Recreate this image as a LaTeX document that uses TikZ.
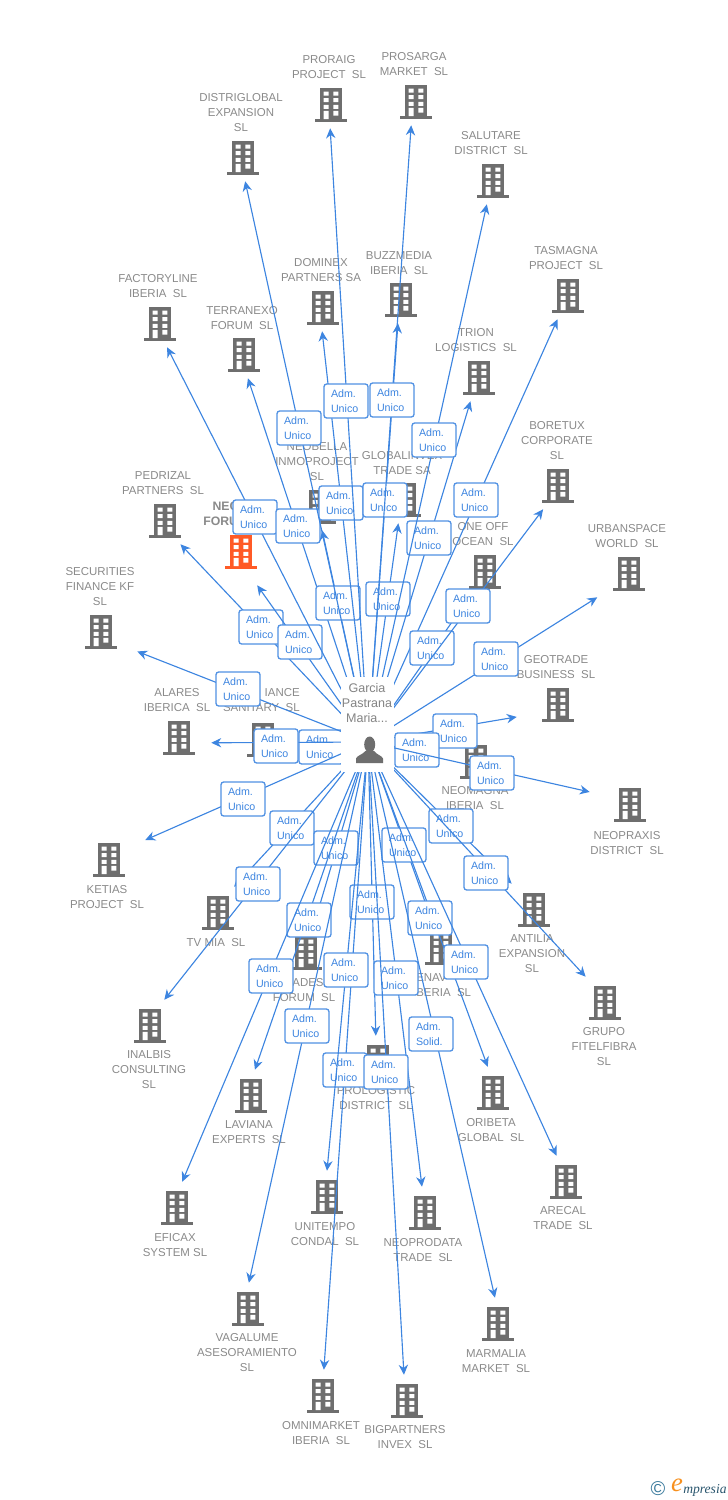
\documentclass[tikz,border=0pt]{standalone}
\usepackage{fontspec}
\usepackage{xcolor}
\usepackage{tikz}
\usetikzlibrary{arrows.meta}
\setmainfont{Liberation Sans}
\newfontfamily\logofont{Liberation Serif}
\definecolor{bldggrey}{HTML}{6E6E6E}
\definecolor{firmgrey}{HTML}{8A8A8A}
\definecolor{linkblue}{HTML}{3D85E0}
\definecolor{headorange}{HTML}{FF5A26}
\definecolor{logoteal}{HTML}{3A7A9C}
\definecolor{logoorange}{HTML}{F7901E}
\tikzset{
  bldg/.style={rectangle,minimum width=54pt,minimum height=36.75pt,inner sep=0pt,yshift=1.125pt,
    path picture={
      \begin{scope}[shift={(path picture bounding box.center)}]
      \fill[#1] (-11,-15.3) rectangle (11,15.7);
      \fill[#1] (-15.7,15.7) rectangle (15.7,18.2);
      \fill[white] (-7.3,-12) rectangle (-2.3,-8) (2.3,-12) rectangle (7.3,-8);
      \fill[white] (-7.3,-5.3) rectangle (-2.3,-1.3) (2.3,-5.3) rectangle (7.3,-1.3);
      \fill[white] (-7.3,1.4) rectangle (-2.3,5.4) (2.3,1.4) rectangle (7.3,5.4);
      \fill[white] (-7.3,7.4) rectangle (-2.3,15.7) (2.3,7.4) rectangle (7.3,12);
      \end{scope}}},
  bldg/.default=bldggrey,
  firm/.style={font=\fontsize{8.6}{11.25}\selectfont,text=firmgrey,align=center,inner sep=0pt},
  link/.style={draw=linkblue,line width=0.85pt,-{Stealth[length=7.5pt,width=7pt]}},
  adm/.style={draw=linkblue!90!white,fill=white,line width=1pt,rounded corners=2pt,
    text width=22.5pt,inner xsep=5.25pt,inner ysep=0pt,minimum height=25.5pt,text=linkblue,
    font=\fontsize{8}{11.25}\selectfont,align=left},
  personbox/.style={fill=white,minimum width=39.5pt,minimum height=71.2pt,inner sep=0pt}
}
\begin{document}
\begin{tikzpicture}[x=0.75pt,y=-0.75pt]
\useasboundingbox (0,0) rectangle (728,1500);
\coordinate (hub) at (368,742);

% buildings and their names
\node [bldg] (prosarga) at (416,102) {};
\node [firm] (prosarganame) at (414,64) {PROSARGA\\MARKET~~SL};
\node [bldg] (proraig) at (331,105) {};
\node [firm] (proraigname) at (329,67) {PRORAIG\\PROJECT~~SL};
\node [bldg] (distriglobal) at (243,158) {};
\node [firm] (distriglobalname) at (241,113) {DISTRIGLOBAL\\EXPANSION\\SL};
\node [bldg] (salutare) at (493,181) {};
\node [firm] (salutarename) at (491,143) {SALUTARE\\DISTRICT~~SL};
\node [bldg] (tasmagna) at (568,296) {};
\node [firm] (tasmagnaname) at (566,258) {TASMAGNA\\PROJECT~~SL};
\node [bldg] (dominex) at (323,308) {};
\node [firm] (dominexname) at (321,270) {DOMINEX\\PARTNERS SA};
\node [bldg] (buzzmedia) at (401,300) {};
\node [firm] (buzzmedianame) at (399,263) {BUZZMEDIA\\IBERIA~~SL};
\node [bldg] (factoryline) at (160,324) {};
\node [firm] (factorylinename) at (158,286) {FACTORYLINE\\IBERIA~~SL};
\node [bldg] (terranexo) at (244,355) {};
\node [firm] (terranexoname) at (242,318) {TERRANEXO\\FORUM~~SL};
\node [bldg] (trion) at (479,378) {};
\node [firm] (trionname) at (476,340) {TRION\\LOGISTICS~~SL};
\node [bldg] (neobella) at (320,507) {};
\node [firm] (neobellaname) at (317,462) {NEOBELLA\\INMOPROJECT\\SL};
\node [bldg] (globalinvex) at (405,500) {};
\node [firm] (globalinvexname) at (402,463) {GLOBALINVEX\\TRADE SA};
\node [bldg] (boretux) at (558,486) {};
\node [firm] (boretuxname) at (557,441) {BORETUX\\CORPORATE\\SL};
\node [bldg] (pedrizal) at (165,521) {};
\node [firm] (pedrizalname) at (163,483) {PEDRIZAL\\PARTNERS~~SL};
\node [bldg=headorange,minimum height=51.75pt] (nec) at (241,552) {};
\node [firm,font=\fontsize{9.2}{11.25}\selectfont\bfseries,align=left,anchor=west] (necname) at (203,514) {\hspace*{7pt}NEC\\FORU};
\node [bldg] (oneoff) at (485,572) {};
\node [firm] (oneoffname) at (483,534) {ONE OFF\\OCEAN~~SL};
\node [bldg] (urbanspace) at (629,574) {};
\node [firm] (urbanspacename) at (627,536) {URBANSPACE\\WORLD~~SL};
\node [bldg] (securities) at (101,632) {};
\node [firm] (securitiesname) at (100,587) {SECURITIES\\FINANCE KF\\SL};
\node [bldg,minimum width=61.5pt] (geotrade) at (558,705) {};
\node [firm] (geotradename) at (556,667) {GEOTRADE\\BUSINESS~~SL};
\node [bldg,minimum width=48pt] (alares) at (179,738) {};
\node [firm] (alaresname) at (177,700) {ALARES\\IBERICA~~SL};
\node [bldg] (alliance) at (263,740) {};
\node [firm,align=right,anchor=east] (alliancename) at (300,700) {IANCE\\SANITARY~~SL};
\node [bldg] (neomagna) at (476,762) {};
\node [firm] (neomagnaname) at (475,798) {NEOMAGNA\\IBERIA~~SL};
\node [bldg,minimum width=60pt] (neopraxis) at (630,805) {};
\node [firm] (neopraxisname) at (627,843) {NEOPRAXIS\\DISTRICT~~SL};
\node [bldg] (ketias) at (109,860) {};
\node [firm] (ketiasname) at (107,897) {KETIAS\\PROJECT~~SL};
\node [bldg] (tvmia) at (218,913) {};
\node [firm] (tvmianame) at (216,943) {TV MIA~~SL};
\node [bldg] (antilia) at (534,910) {};
\node [firm] (antilianame) at (532,954) {ANTILIA\\EXPANSION\\SL};
\node [bldg] (grupo) at (605,1003) {};
\node [firm] (gruponame) at (604,1047) {GRUPO\\FITELFIBRA\\SL};
\node [bldg] (ades) at (306,953) {};
\node [firm] (adesname) at (304,990) {\hspace*{6pt}ADES\\FORUM~~SL};
\node [bldg] (enav) at (441,948) {};
\node [firm,align=left,anchor=west] (enavname) at (416,985) {ENAV\\BERIA~~SL};
\node [bldg] (inalbis) at (150,1026) {};
\node [firm] (inalbisname) at (149,1070) {INALBIS\\CONSULTING\\SL};
\node [bldg] (laviana) at (251,1096) {};
\node [firm] (laviananame) at (249,1132) {LAVIANA\\EXPERTS~~SL};
\node [bldg] (prologistic) at (378,1062) {};
\node [firm] (prologisticname) at (376,1098) {PROLOGISTIC\\DISTRICT~~SL};
\node [bldg] (oribeta) at (493,1093) {};
\node [firm] (oribetaname) at (491,1130) {ORIBETA\\GLOBAL~~SL};
\node [bldg] (arecal) at (566,1182) {};
\node [firm] (arecalname) at (563,1218) {ARECAL\\TRADE~~SL};
\node [bldg] (eficax) at (177,1208) {};
\node [firm] (eficaxname) at (175,1245) {EFICAX\\SYSTEM SL};
\node [bldg] (unitempo) at (327,1197) {};
\node [firm] (unitemponame) at (325,1234) {UNITEMPO\\CONDAL~~SL};
\node [bldg] (neoprodata) at (425,1213) {};
\node [firm] (neoprodataname) at (423,1250) {NEOPRODATA\\TRADE~~SL};
\node [bldg] (vagalume) at (248,1309) {};
\node [firm] (vagalumename) at (247,1353) {VAGALUME\\ASESORAMIENTO\\SL};
\node [bldg] (marmalia) at (498,1324) {};
\node [firm] (marmalianame) at (496,1361) {MARMALIA\\MARKET~~SL};
\node [bldg] (omnimarket) at (323,1396) {};
\node [firm] (omnimarketname) at (321,1433) {OMNIMARKET\\IBERIA~~SL};
\node [bldg] (bigpartners) at (407,1401) {};
\node [firm] (bigpartnersname) at (405,1437) {BIGPARTNERS\\INVEX~~SL};

% links, each one with its label on top
\draw [link] (hub) -- (alliance);
\node [adm] (aalliance) at (321,747) {Adm.\\Unico};
\draw [link] (hub) -- (alares.-11);
\node [adm] (aalares) at (276,746) {Adm.\\Unico};
\draw [link] (hub) -- (securities.-30);
\node [adm] (asecurities) at (238,689) {Adm.\\Unico};
\draw [link] (hub) -- (pedrizal.-58);
\node [adm] (apedrizal) at (261,627) {Adm.\\Unico};
\draw [link] (hub) -- (nec.-65);
\node [adm] (anec) at (300,642) {Adm.\\Unico};
\draw [link] (hub) -- (factoryline.-74);
\node [adm] (afactoryline) at (255,517) {Adm.\\Unico};
\draw [link] (hub) -- (terranexo.-81);
\node [adm] (aterranexo) at (298,526) {Adm.\\Unico};
\draw [link] (hub) -- (neobella.-85);
\node [adm] (aneobella) at (338,603) {Adm.\\Unico};
\draw [link] (hub) -- (dominex.-92);
\node [adm] (adominex) at (341,503) {Adm.\\Unico};
\draw [link] (hub) -- (distriglobal.-85);
\node [adm] (adistriglobal) at (299,428) {Adm.\\Unico};
\draw [link] (hub) -- (proraig.-92);
\node [adm] (aproraig) at (346,401) {Adm.\\Unico};
\draw [link] (hub) -- (globalinvex.-105);
\node [adm] (aglobalinvex) at (388,599) {Adm.\\Unico};
\draw [link] (hub) -- (buzzmedia.-97);
\node [adm] (abuzzmedia) at (385,500) {Adm.\\Unico};
\draw [link] (hub) -- (prosarga.-101);
\node [adm] (aprosarga) at (392,400) {Adm.\\Unico};
\draw [link] (hub) -- (trion.-109);
\node [adm] (atrion) at (429,538) {Adm.\\Unico};
\draw [link] (hub) -- (salutare.-104);
\node [adm] (asalutare) at (434,440) {Adm.\\Unico};
\draw [link] (hub) -- (tasmagna.-113);
\node [adm] (atasmagna) at (476,500) {Adm.\\Unico};
\draw [link] (hub) -- (oneoff.-120);
\node [adm] (aoneoff) at (432,648) {Adm.\\Unico};
\draw [link] (hub) -- (boretux.-121);
\node [adm] (aboretux) at (468,606) {Adm.\\Unico};
\draw [link] (hub) -- (urbanspace.-142);
\node [adm] (aurbanspace) at (496,659) {Adm.\\Unico};
\draw [link] (hub) -- (geotrade.-162);
\node [adm] (ageotrade) at (455,731) {Adm.\\Unico};
\draw [link] (hub) -- (neomagna);
\node [adm] (aneomagna) at (417,750) {Adm.\\Unico};
\draw [link] (hub) -- (neopraxis.164);
\node [adm] (aneopraxis) at (492,773) {Adm.\\Unico};
\draw [link] (hub) -- (ketias.27);
\node [adm] (aketias) at (243,799) {Adm.\\Unico};
\draw [link] (hub) -- (tvmia.57);
\node [adm] (atvmia) at (292,828) {Adm.\\Unico};
\draw [link] (hub) -- (inalbis.60);
\node [adm] (ainalbis) at (258,884) {Adm.\\Unico};
\draw [link] (hub) -- (ades);
\node [adm] (aades) at (336,848) {Adm.\\Unico};
\draw [link] (hub) -- (laviana.81);
\node [adm] (alaviana) at (309,920) {Adm.\\Unico};
\draw [link] (hub) -- (enav);
\node [adm] (aenav) at (404,845) {Adm.\\Unico};
\draw [link] (hub) -- (antilia.132);
\node [adm] (aantilia) at (451,826) {Adm.\\Unico};
\draw [link] (hub) -- (grupo.128);
\node [adm] (agrupo) at (486,873) {Adm.\\Unico};
\draw [link] (hub) -- (prologistic.95);
\node [adm] (aprologistic) at (372,902) {Adm.\\Unico};
\draw [link] (hub) -- (oribeta.102);
\node [adm] (aoribeta) at (430,918) {Adm.\\Unico};
\draw [link] (hub) -- (omnimarket.88);
\node [adm] (aomnimarket) at (345,1070) {Adm.\\Unico};
\draw [link] (hub) -- (unitempo.90);
\node [adm] (aunitempo) at (346,970) {Adm.\\Unico};
\draw [link] (hub) -- (arecal.111);
\node [adm] (aarecal) at (466,962) {Adm.\\Unico};
\draw [link] (hub) -- (eficax.78);
\node [adm] (aeficax) at (271,976) {Adm.\\Unico};
\draw [link] (hub) -- (neoprodata);
\node [adm] (aneoprodata) at (396,978) {Adm.\\Unico};
\draw [link] (hub) -- (vagalume.88);
\node [adm] (avagalume) at (307,1026) {Adm.\\Unico};
\draw [link] (hub) -- (marmalia.97);
\node [adm] (amarmalia) at (431,1034) {Adm.\\Solid.};
\draw [link] (hub) -- (bigpartners.97);
\node [adm] (abigpartners) at (386,1072) {Adm.\\Unico};

% the person in the middle
\node [personbox] (maria) at (367.3,724.5) {};
\node [firm,font=\fontsize{9.4}{11.25}\selectfont,text=bldggrey!85!white] (marianame) at (367,703) {Garcia\\Pastrana\\Maria...};
\fill [bldggrey] (369.7,744.5) ellipse [x radius=5.5,y radius=8];
\fill [bldggrey] (356,763) -- (356,758.5) .. controls (357,755.5) and (362,755) .. (365.5,751) -- (374,751) .. controls (377,755) and (382,755.5) .. (383,758.5) -- (383,763) -- cycle;

% logo in the corner
\node [inner sep=0pt,text=logoteal,font=\fontsize{15}{15}\selectfont] (logoc) at (658,1489) {\textcopyright};
\node [inner sep=0pt,text=logoorange,font=\logofont\itshape\fontsize{20}{20}\selectfont] (logoe) at (677,1485) {e};
\node [inner sep=0pt,anchor=west,text=logoteal!70!black,font=\logofont\itshape\fontsize{10.2}{10}\selectfont] (logotext) at (683,1490) {mpresia};
\end{tikzpicture}
\end{document}
